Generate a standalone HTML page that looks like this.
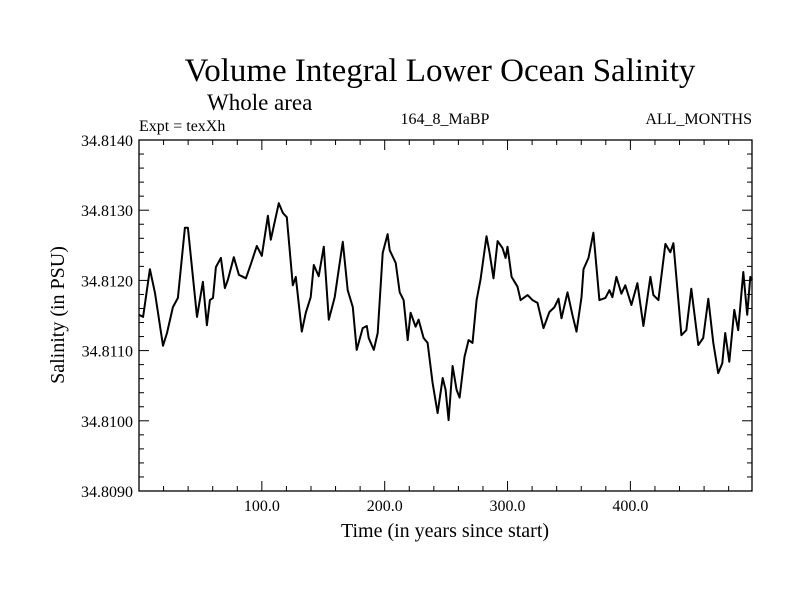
<!DOCTYPE html>
<html><head><meta charset="utf-8"><style>
body{margin:0;background:#fff;}
svg{display:block;font-family:"Liberation Serif",serif;}
</style></head><body>
<svg id="chart" width="800" height="600" viewBox="0 0 800 600">
<rect width="800" height="600" fill="#fff"/>
<text x="440" y="81" font-size="33" text-anchor="middle">Volume Integral Lower Ocean Salinity</text>
<text x="207" y="110" font-size="23">Whole area</text>
<text x="139" y="131" font-size="16">Expt = texXh</text>
<text x="445" y="124" font-size="16" text-anchor="middle">164_8_MaBP</text>
<text x="752" y="124" font-size="16" text-anchor="end">ALL_MONTHS</text>
<text transform="translate(64,315) rotate(-90)" font-size="20" text-anchor="middle">Salinity (in PSU)</text>
<text x="445" y="537" font-size="20" text-anchor="middle">Time (in years since start)</text>
<g id="axes"></g>
<g id="series"></g>
</svg>
<script>
const years=[0,3.3,8.9,13,19.5,22.8,27.6,31.7,37.4,39.8,47.2,52,55.3,57.7,60.2,62.6,66.7,69.9,72.4,77.2,81.3,87,91,95.9,100,104.9,107.3,113.8,117.1,120.3,125.2,127.6,132.5,135.8,139.8,142.3,146.3,150.4,154.5,159.3,165.9,169.9,174,177.2,182.1,185.4,187,191.1,194.3,198.4,202.4,204.1,209,212.2,215.4,218.7,221.1,225.2,227.6,231.7,234.9,239,243.1,247.2,249.6,252,255.3,258.5,261,265,268.3,271.5,274.8,278,282.9,285.4,288.6,291.9,295.9,298.4,300,303.3,308.1,310.6,316.3,320.3,324.4,329.3,334.1,338.2,341.5,343.9,348.8,352.8,356.1,360.2,361.8,365.9,369.9,374.8,379.7,382.9,385.4,388.6,392.7,395.9,400.8,405.7,410.6,416.3,418.7,422.8,428.5,432.5,435,441.5,445.5,449.6,455.3,459.3,463.4,467.5,471.5,474.8,477.2,480.5,484.6,487.8,491.9,495.1,497.6,499.2];
const salinity=[34.81151,34.81148,34.81216,34.81182,34.81107,34.81125,34.81162,34.81175,34.81275,34.81275,34.81148,34.81198,34.81136,34.81172,34.81175,34.81219,34.81232,34.81189,34.81201,34.81233,34.81208,34.81203,34.81223,34.81249,34.81235,34.81292,34.81258,34.81310,34.81296,34.81290,34.81193,34.81205,34.81127,34.81154,34.81176,34.81222,34.81206,34.81248,34.81144,34.81176,34.81255,34.81186,34.81162,34.81101,34.81132,34.81135,34.81118,34.81101,34.81125,34.81239,34.81266,34.81243,34.81225,34.81183,34.81172,34.81115,34.81154,34.81134,34.81144,34.81118,34.81111,34.81054,34.81011,34.81061,34.81044,34.81001,34.81078,34.81044,34.81033,34.81091,34.81115,34.81111,34.81172,34.81201,34.81263,34.81239,34.81203,34.81256,34.81246,34.81232,34.81248,34.81205,34.81191,34.81172,34.81179,34.81172,34.81168,34.81132,34.81155,34.81162,34.81174,34.81146,34.81183,34.81151,34.81127,34.81176,34.81216,34.81232,34.81268,34.81172,34.81175,34.81186,34.81176,34.81205,34.81181,34.81193,34.81165,34.81196,34.81135,34.81205,34.81179,34.81172,34.81252,34.81240,34.81253,34.81122,34.81129,34.81188,34.81108,34.81118,34.81174,34.81111,34.81068,34.81082,34.81125,34.81084,34.81158,34.81129,34.81212,34.81151,34.81205,34.81201];
const yTicks=[34.8090,34.8100,34.8110,34.8120,34.8130,34.8140];
const xTicks=[100,200,300,400];
const X0=139,X1=752,Y0=140,Y1=491,XMIN=0,XMAX=499,YMIN=34.809,YMAX=34.814;
function sx(v){return X0+(v-XMIN)/(XMAX-XMIN)*(X1-X0);}
function sy(v){return Y1-(v-YMIN)/(YMAX-YMIN)*(Y1-Y0);}
const NS="http://www.w3.org/2000/svg";
const axes=document.getElementById('axes');
function mk(tag,attrs,parent){const e=document.createElementNS(NS,tag);for(const k in attrs)e.setAttribute(k,attrs[k]);parent.appendChild(e);return e;}
const frame=mk('rect',{x:X0,y:Y0,width:X1-X0,height:Y1-Y0,fill:'none',stroke:'#000','stroke-width':1.3},axes);


for(let i=0;i<=25;i++){
  const v=YMIN+i*0.0002,y=sy(v),len=(i%5===0)?10:5;
  const t1=mk('line',{x1:X0,x2:X0+len,y1:y,y2:y,stroke:'#000','stroke-width':1},axes);
  
  
  const t2=mk('line',{x1:X1,x2:X1-len,y1:y,y2:y,stroke:'#000','stroke-width':1},axes);
  
  
}
yTicks.forEach(v=>{
  const t=mk('text',{x:X0-6,y:sy(v)+6,'font-size':16,'text-anchor':'end'},axes);
  t.textContent=v.toFixed(4);
  
  
});
for(let v=20;v<XMAX;v+=20){
  const x=sx(v),len=(v%100===0)?10:5;
  const t1=mk('line',{x1:x,x2:x,y1:Y1,y2:Y1-len,stroke:'#000','stroke-width':1},axes);
  
  
  const t2=mk('line',{x1:x,x2:x,y1:Y0,y2:Y0+len,stroke:'#000','stroke-width':1},axes);
  
  
}
xTicks.forEach(v=>{
  const t=mk('text',{x:sx(v),y:Y1+20,'font-size':16,'text-anchor':'middle'},axes);
  t.textContent=v.toFixed(1);
  
  
});
const pts=years.map((y,i)=>sx(y).toFixed(1)+','+sy(salinity[i]).toFixed(1)).join(' ');
const line=mk('polyline',{points:pts,fill:'none',stroke:'#000','stroke-width':2,'stroke-linejoin':'round'},document.getElementById('series'));


</script>
</body></html>
